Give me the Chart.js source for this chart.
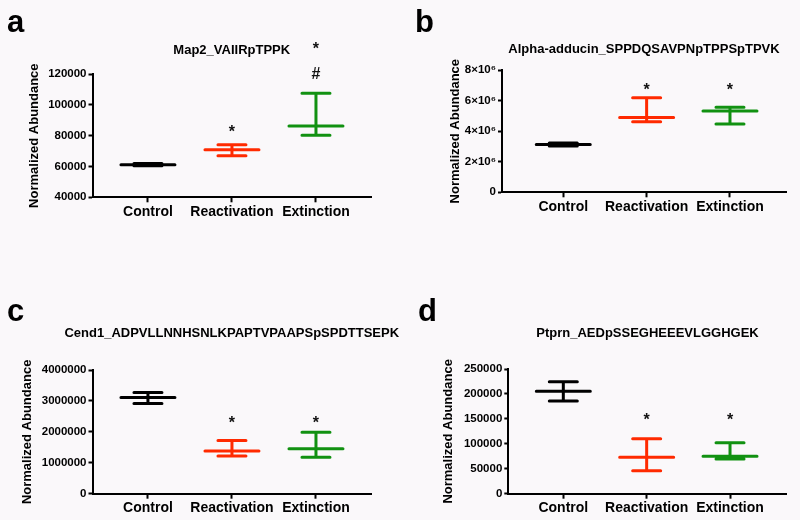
<!DOCTYPE html>
<html>
<head>
<meta charset="utf-8">
<script src="https://cdn.jsdelivr.net/npm/chart.js@4/dist/chart.umd.min.js"></script>
<style>
  body { margin: 0; background: #faf8fa; }
  #wrap { position: relative; width: 800px; height: 520px; background: #faf8fa; }
  canvas { position: absolute; }
</style>
</head>
<body>
<div id="wrap">
  <canvas id="panel-a" width="400" height="250" style="left:0;top:0"></canvas>
  <canvas id="panel-b" width="400" height="250" style="left:400px;top:0"></canvas>
  <canvas id="panel-c" width="400" height="270" style="left:0;top:250px"></canvas>
  <canvas id="panel-d" width="400" height="270" style="left:400px;top:250px"></canvas>
</div>
<script>
const groups = ["Control", "Reactivation", "Extinction"];
const groupColors = ["#000000", "#ff2a00", "#119111"];

// a
const titleA = "Map2_VAIIRpTPPK";
const meanA = [61200, 70900, 86300];
const lowA = [60500, 67000, 80200];
const highA = [61900, 74100, 107500];
const marksA = [[], [["*", 85000]], [["#", 120600], ["*", 138800]]];
const yTicksA = [40000, 60000, 80000, 100000, 120000];

// b
const titleB = "Alpha-adducin_SPPDQSAVPNpTPPSpTPVK";
const meanB = [3130000, 4900000, 5320000];
const lowB = [3030000, 4620000, 4470000];
const highB = [3220000, 6190000, 5560000];
const marksB = [[], [["*", 7000000]], [["*", 7000000]]];
const yTicksB = [0, 2000000, 4000000, 6000000, 8000000];
const yTickLabelsB = ["0", "2×10⁶", "4×10⁶", "6×10⁶", "8×10⁶"];

// c
const titleC = "Cend1_ADPVLLNNHSNLKPAPTVPAAPSpSPDTTSEPK";
const meanC = [3110000, 1380000, 1450000];
const lowC = [2920000, 1220000, 1180000];
const highC = [3270000, 1720000, 1990000];
const marksC = [[], [["*", 2440000]], [["*", 2440000]]];
const yTicksC = [0, 1000000, 2000000, 3000000, 4000000];

// d
const titleD = "Ptprn_AEDpSSEGHEEEVLGGHGEK";
const meanD = [205300, 73000, 75000];
const lowD = [185800, 46100, 69600];
const highD = [224500, 110300, 102200];
const marksD = [[], [["*", 156000]], [["*", 156000]]];
const yTicksD = [0, 50000, 100000, 150000, 200000, 250000];

const fontFamily = "'Liberation Sans', Arial, Helvetica, sans-serif";

// mean line + error bar with caps, plus significance marks
const errorBars = {
  id: "errorBars",
  afterDatasetsDraw(chart, args, opts) {
    const { ctx, scales: { x, y } } = chart;
    ctx.save();
    ctx.lineWidth = 3;
    ctx.lineCap = "round";
    chart.data.datasets.forEach((ds, i) => {
      const cx = x.getPixelForValue(ds.data[0].x);
      const yMean = y.getPixelForValue(ds.data[0].y);
      const yLo = y.getPixelForValue(opts.low[i]);
      const yHi = y.getPixelForValue(opts.high[i]);
      ctx.strokeStyle = ds.borderColor;
      ctx.beginPath();
      ctx.moveTo(cx, yLo); ctx.lineTo(cx, yHi);
      ctx.moveTo(cx - 14, yLo); ctx.lineTo(cx + 14, yLo);
      ctx.moveTo(cx - 14, yHi); ctx.lineTo(cx + 14, yHi);
      ctx.moveTo(cx - 27, yMean); ctx.lineTo(cx + 27, yMean);
      ctx.stroke();

      ctx.fillStyle = "#111";
      ctx.font = "bold 16px " + fontFamily;
      ctx.textAlign = "center";
      ctx.textBaseline = "alphabetic";
      opts.marks[i].forEach(([txt, level]) => {
        const off = txt === "*" ? 0.58 : 0.36;
        ctx.fillText(txt, cx, y.getPixelForValue(level) + off * 16);
      });
    });
    ctx.restore();
  },
};

// panel letter and title
const panelDeco = {
  id: "panelDeco",
  afterDraw(chart, args, opts) {
    const { ctx, chartArea } = chart;
    ctx.save();
    ctx.fillStyle = "#000";
    ctx.textBaseline = "alphabetic";
    ctx.textAlign = "left";
    ctx.font = "bold 31px " + fontFamily;
    ctx.fillText(opts.letter, opts.letterX, opts.letterY);
    ctx.font = "bold 13px " + fontFamily;
    ctx.textAlign = "center";
    ctx.textBaseline = "middle";
    ctx.fillText(opts.title, (chartArea.left + chartArea.right) / 2, opts.titleY);
    ctx.restore();
  },
};

function makePanel(id, cfg) {
  return new Chart(document.getElementById(id), {
    type: "scatter",
    data: {
      datasets: groups.map((g, i) => ({
        label: g,
        data: [{ x: i, y: cfg.mean[i] }],
        pointRadius: 0,
        borderColor: groupColors[i],
        backgroundColor: groupColors[i],
      })),
    },
    options: {
      responsive: false,
      animation: false,
      events: [],
      layout: { padding: cfg.pad },
      plugins: {
        legend: { display: false },
        tooltip: { enabled: false },
        errorBars: { low: cfg.low, high: cfg.high, marks: cfg.marks },
        panelDeco: cfg.deco,
      },
      scales: {
        x: {
          type: "linear",
          min: cfg.xmin,
          max: cfg.xmax,
          afterBuildTicks: (s) => { s.ticks = groups.map((g, i) => ({ value: i })); },
          afterFit: (s) => { s.height = 24; },
          ticks: {
            callback: (v) => groups[v],
            color: "#000",
            padding: 1,
            autoSkip: false,
            maxRotation: 0,
            font: { family: fontFamily, size: 14, weight: "bold" },
          },
          grid: { drawOnChartArea: false, tickLength: 5, tickWidth: 2, color: "#000" },
          border: { color: "#000", width: 2 },
        },
        y: {
          min: cfg.yTicks[0],
          max: cfg.yTicks[cfg.yTicks.length - 1],
          afterBuildTicks: (s) => { s.ticks = cfg.yTicks.map((v) => ({ value: v })); },
          afterFit: (s) => { s.width = cfg.yWidth; },
          ticks: {
            callback: cfg.yLabel,
            color: "#000",
            padding: 2,
            font: { family: fontFamily, size: 11.5, weight: "bold" },
          },
          grid: { drawOnChartArea: false, tickLength: 4, tickWidth: 2, color: "#000" },
          border: { color: "#000", width: 2 },
          title: {
            display: true,
            text: "Normalized Abundance",
            color: "#000",
            padding: 0,
            font: { family: fontFamily, size: 13, weight: "bold" },
          },
        },
      },
    },
    plugins: [errorBars, panelDeco],
  });
}

const plainLabel = (v) => String(v);

makePanel("panel-a", {
  mean: meanA, low: lowA, high: highA, marks: marksA, yTicks: yTicksA, yLabel: plainLabel,
  pad: { left: 27, top: 74, right: 29, bottom: 28.7 }, yWidth: 65.5, xmin: -0.66, xmax: 2.655,
  deco: { letter: "a", letterX: 7, letterY: 32, title: titleA, titleY: 50 },
});
makePanel("panel-b", {
  mean: meanB, low: lowB, high: highB, marks: marksB, yTicks: yTicksB,
  yLabel: (v) => yTickLabelsB[yTicksB.indexOf(v)],
  pad: { left: 48, top: 70, right: 14, bottom: 33.7 }, yWidth: 54, xmin: -0.735, xmax: 2.672,
  deco: { letter: "b", letterX: 15, letterY: 32, title: titleB, titleY: 49 },
});
makePanel("panel-c", {
  mean: meanC, low: lowC, high: highC, marks: marksC, yTicks: yTicksC, yLabel: plainLabel,
  pad: { left: 20, top: 120, right: 29, bottom: 2.3 }, yWidth: 72.5, xmin: -0.66, xmax: 2.655,
  deco: { letter: "c", letterX: 7, letterY: 71, title: titleC, titleY: 83 },
});
makePanel("panel-d", {
  mean: meanD, low: lowD, high: highD, marks: marksD, yTicks: yTicksD, yLabel: plainLabel,
  pad: { left: 41, top: 119, right: 13.3, bottom: 2.3 }, yWidth: 67.3, xmin: -0.66, xmax: 2.68,
  deco: { letter: "d", letterX: 18, letterY: 71, title: titleD, titleY: 83 },
});
</script>
</body>
</html>
